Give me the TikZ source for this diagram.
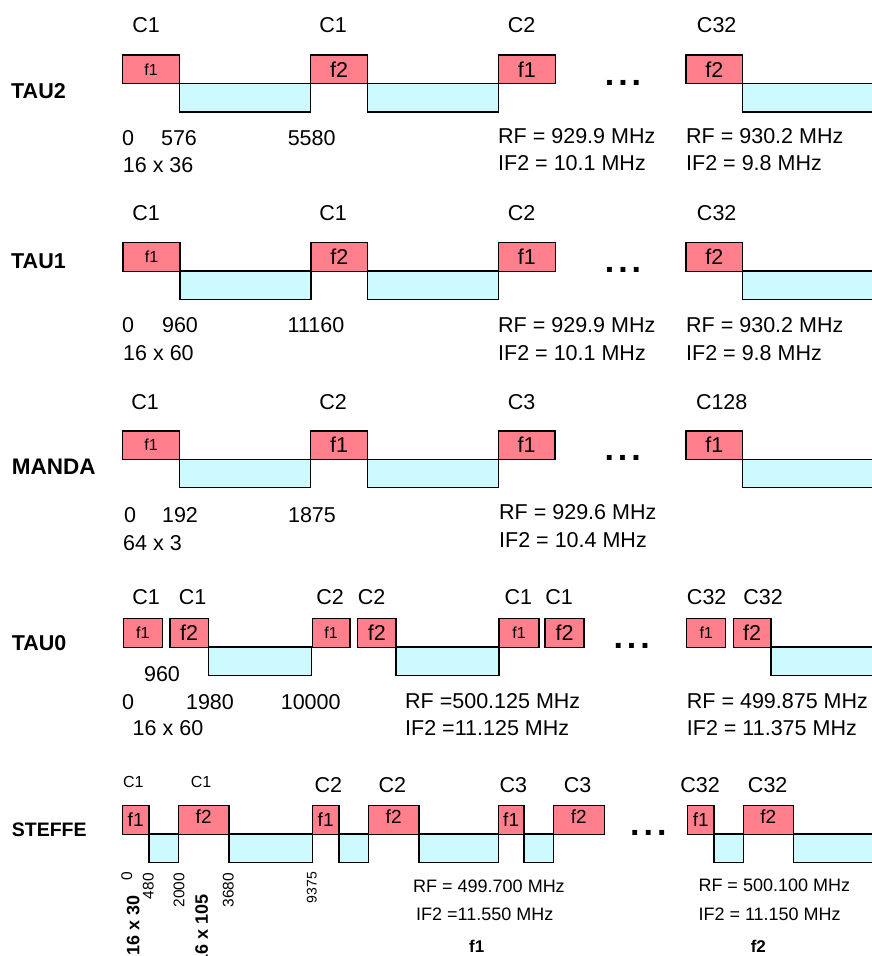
\documentclass[tikz,border=0pt]{standalone}
\usepackage{fontspec}
\setmainfont{Liberation Sans}
\usepackage{tikz}
\usetikzlibrary{positioning}
\definecolor{slotpink}{RGB}{255,128,140}
\definecolor{slotcyan}{RGB}{204,250,255}
\newcommand{\fsz}[1]{\fontsize{#1}{#1}\selectfont}

\begin{document}
\begin{tikzpicture}[x=1pt, y=-1pt,
  hi/.style={draw=black, fill=slotpink, line width=1.3pt, inner sep=0pt,
             minimum height=28.5pt},
  lo/.style={draw=black, fill=slotcyan, line width=1.3pt, inner sep=0pt,
             minimum height=28.5pt},
  chan/.style={font=\fsz{21.5}, inner sep=0pt},
  txt/.style={font=\fsz{21.5}, inner sep=0pt, anchor=west},
  rowname/.style={font=\bfseries\fsz{21.5}, inner sep=0pt, anchor=west},
  more/.style={font=\bfseries\fsz{34}, inner sep=0pt, anchor=base}]
  \useasboundingbox (0,0) rectangle (872,956);

  % TAU2
  \node[rowname] (tautwo) at (11,90.7) {TAU2};
  \foreach \c/\w [count=\i] in {245/131.4, 432.8/131, 808.85/132.3}
    \node[lo, minimum width=\w pt] (a-lo\i) at (\c,97.75) {};
  \foreach \c/\w/\t/\s [count=\i] in {151/56.6/f1/16, 339/56.6/f2/21.5,
      526.8/57/f1/21.5, 714.35/56.7/f2/21.5}
    \node[hi, minimum width=\w pt, font=\fsz{\s}] (a-hi\i) at (\c,69.25) {\t};
  \foreach \c/\t [count=\i] in {146/C1, 333/C1, 521.7/C2, 716.7/C32}
    \node[chan] (a-ch\i) at (\c,25) {\t};
  \foreach \c/\t [count=\i] in {128/0, 179/576, 311.7/5580}
    \node[chan] (a-n\i) at (\c,138) {\t};
  \node[txt] (a-rep) at (122.7,165) {16 x 36};
  \node[txt] (a-rf1) at (498,136) {RF = 929.9 MHz};
  \node[txt] (a-if1) at (498,163) {IF2 = 10.1 MHz};
  \node[txt] (a-rf2) at (686,136) {RF = 930.2 MHz};
  \node[txt] (a-if2) at (686,163) {IF2 = 9.8 MHz};
  \node[more] (a-dots) at (623,85) {.\hspace{4pt}.\hspace{4pt}.};

  % TAU1
  \node[rowname] (tauone) at (11,261.7) {TAU1};
  \foreach \c/\w [count=\i] in {245.5/131, 432.8/131, 808.85/132.3}
    \node[lo, minimum width=\w pt] (b-lo\i) at (\c,285.2) {};
  \foreach \c/\w/\t/\s [count=\i] in {151.5/57/f1/16, 339.3/56.7/f2/21.5,
      526.8/57/f1/21.5, 714.35/56.7/f2/21.5}
    \node[hi, minimum width=\w pt, font=\fsz{\s}] (b-hi\i) at (\c,256.9) {\t};
  \foreach \c/\t [count=\i] in {146/C1, 333/C1, 521.7/C2, 716.7/C32}
    \node[chan] (b-ch\i) at (\c,213) {\t};
  \foreach \c/\t [count=\i] in {128/0, 180/960, 316/11160}
    \node[chan] (b-n\i) at (\c,325) {\t};
  \node[txt] (b-rep) at (123,353) {16 x 60};
  \node[txt] (b-rf1) at (498,325) {RF = 929.9 MHz};
  \node[txt] (b-if1) at (498,353) {IF2 = 10.1 MHz};
  \node[txt] (b-rf2) at (686,325) {RF = 930.2 MHz};
  \node[txt] (b-if2) at (686,353) {IF2 = 9.8 MHz};
  \node[more] (b-dots) at (623,272.5) {.\hspace{4pt}.\hspace{4pt}.};

  % MANDA
  \node[rowname, font=\bfseries\fsz{22.5}] (manda) at (11.7,467) {MANDA};
  \foreach \c/\w [count=\i] in {245/131.4, 432.8/131, 808.85/132.3}
    \node[lo, minimum width=\w pt] (c-lo\i) at (\c,473.5) {};
  \foreach \c/\w/\t/\s [count=\i] in {151/56.6/f1/16, 339/56.6/f1/21.5,
      526.7/56.7/f1/21.5, 714.35/56.7/f1/21.5}
    \node[hi, minimum width=\w pt, font=\fsz{\s}] (c-hi\i) at (\c,445.2) {\t};
  \foreach \c/\t [count=\i] in {145/C1, 333/C2, 521.7/C3, 721.7/C128}
    \node[chan] (c-ch\i) at (\c,401.7) {\t};
  \foreach \c/\t [count=\i] in {130/0, 180/192, 312/1875}
    \node[chan] (c-n\i) at (\c,515) {\t};
  \node[txt] (c-rep) at (123,543) {64 x 3};
  \node[txt] (c-rf1) at (499,512) {RF = 929.6 MHz};
  \node[txt] (c-if1) at (499,540) {IF2 = 10.4 MHz};
  \node[more] (c-dots) at (622.7,460.8) {.\hspace{4pt}.\hspace{4pt}.};

  % TAU0
  \node[rowname] (tauzero) at (11.7,643.3) {TAU0};
  \foreach \c/\w [count=\i] in {260/103.4, 447.5/103, 823/104}
    \node[lo, minimum width=\w pt] (d-lo\i) at (\c,661.2) {};
  \foreach \c/\w/\t/\s [count=\i] in {142.8/39/f1/16, 189.15/38.3/f2/21.5,
      331.15/37.7/f1/16, 376.85/38.3/f2/21.5, 519/40/f1/16,
      564.5/39/f2/21.5, 706.2/39/f1/16, 752.15/37.7/f2/21.5}
    \node[hi, minimum width=\w pt, font=\fsz{\s}] (d-hi\i) at (\c,632.9) {\t};
  \foreach \c/\t [count=\i] in {146/C1, 192.7/C1, 330/C2, 371.7/C2,
      518.3/C1, 559/C1, 706.7/C32, 763/C32}
    \node[chan] (d-ch\i) at (\c,597.3) {\t};
  \node[chan] (d-gap) at (162,674) {960};
  \foreach \c/\t [count=\i] in {128/0, 210/1980, 310.7/10000}
    \node[chan] (d-n\i) at (\c,701.7) {\t};
  \node[chan] (d-rep) at (168,728) {16 x 60};
  \node[txt] (d-rf1) at (405,701) {RF =500.125 MHz};
  \node[txt] (d-if1) at (405,728) {IF2 =11.125 MHz};
  \node[txt] (d-rf2) at (686.7,701) {RF = 499.875 MHz};
  \node[txt] (d-if2) at (686.7,728) {IF2 = 11.375 MHz};
  \node[more] (d-dots) at (631.7,648.2) {.\hspace{4pt}.\hspace{4pt}.};

  % STEFFE
  \node[rowname, font=\bfseries\fsz{19.5}] (steffe) at (11.7,830) {STEFFE};
  \foreach \c/\w [count=\i] in {163.65/29.3, 270.65/83.3, 353.65/29.3,
      458.65/79.3, 538.65/29.3, 728.65/29.3, 834.15/81.7}
    \node[lo, minimum width=\w pt] (e-lo\i) at (\c,848.35) {};
  \foreach \c/\w/\t/\s [count=\i] in {135.65/26.7/f1/0, 203.65/50.7/f2/6,
      325.65/26.7/f1/0, 393.65/50.7/f2/6, 511.15/25.7/f1/0,
      578.8/51/f2/6, 700.85/26.3/f1/0, 768.3/50/f2/6}
    \node[hi, minimum width=\w pt, font=\fsz{19}, text depth=\s pt]
      (e-hi\i) at (\c,819.9) {\t};
  \foreach \c/\t [count=\i] in {133.3/C1, 201/C1}
    \node[chan, font=\fsz{16}] (e-cs\i) at (\c,781.7) {\t};
  \foreach \c/\t [count=\i] in {328.3/C2, 392.3/C2, 513.3/C3, 577.7/C3,
      700/C32, 767.7/C32}
    \node[chan] (e-ch\i) at (\c,785) {\t};
  \foreach \c/\y/\t [count=\i] in {126.7/871.7/0, 148.3/873/480,
      179/872.7/2000, 228.3/872.7/3680}
    \node[chan, font=\fsz{15.5}, rotate=90, anchor=east] (e-n\i) at (\c,\y) {\t};
  \node[chan, font=\fsz{14}, rotate=90, anchor=east] (e-n5) at (311.7,871.7) {9375};
  \node[chan, font=\bfseries\fsz{18}, rotate=90, anchor=east] (e-rep1)
    at (133.3,895) {16 x 30};
  \node[chan, font=\bfseries\fsz{18}, rotate=90, anchor=east] (e-rep2)
    at (201.7,894) {16 x 105};
  \node[txt, font=\fsz{18}] (e-rf1) at (413,886) {RF = 499.700 MHz};
  \node[txt, font=\fsz{18}] (e-if1) at (416,914) {IF2 =11.550 MHz};
  \node[txt, font=\fsz{18}] (e-rf2) at (698.3,885) {RF = 500.100 MHz};
  \node[txt, font=\fsz{18}] (e-if2) at (698.3,914) {IF2 = 11.150 MHz};
  \node[chan, font=\bfseries\fsz{17}] (e-fa) at (476.7,946.7) {f1};
  \node[chan, font=\bfseries\fsz{17}] (e-fb) at (758.3,946.7) {f2};
  \node[more] (e-dots) at (648.3,835.5) {.\hspace{4pt}.\hspace{4pt}.};
\end{tikzpicture}
\end{document}
